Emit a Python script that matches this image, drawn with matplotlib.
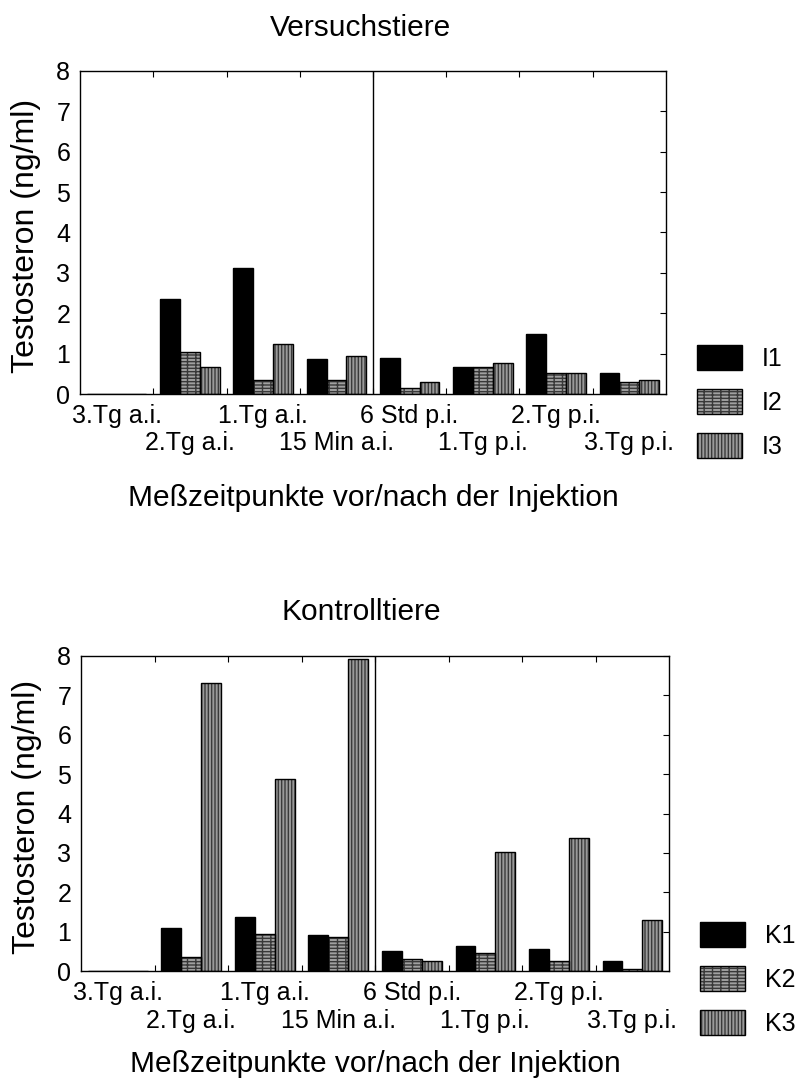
import numpy as np
import matplotlib
matplotlib.use("Agg")
import matplotlib.pyplot as plt
from matplotlib.patches import Patch

plt.rcParams['font.family'] = ['Liberation Sans', 'DejaVu Sans']
plt.rcParams['hatch.linewidth'] = 1.0

# Messzeitpunkte (Reihenfolge auf der x-Achse)
zeitpunkte = ['3.Tg a.i.', '2.Tg a.i.', '1.Tg a.i.', '15 Min a.i.',
              '6 Std p.i.', '1.Tg p.i.', '2.Tg p.i.', '3.Tg p.i.']

# Versuchstiere, Testosteron in ng/ml (3.Tg a.i. nicht gemessen)
i1 = [0, 2.35, 3.11, 0.86, 0.89, 0.67, 1.48, 0.53]
i2 = [0, 1.03, 0.35, 0.35, 0.16, 0.67, 0.53, 0.30]
i3 = [0, 0.67, 1.25, 0.95, 0.30, 0.76, 0.53, 0.35]

# Kontrolltiere
k1 = [0, 1.09, 1.37, 0.91, 0.51, 0.64, 0.56, 0.27]
k2 = [0, 0.36, 0.95, 0.87, 0.32, 0.46, 0.27, 0.05]
k3 = [0, 7.31, 4.88, 7.91, 0.27, 3.03, 3.39, 1.31]

FS = 18
FS_BIG = 21.5
# fill, hatch, hatch colour per series
styles = [('black', '', 'black'),
          ('#a0a0a0', '-----||', '#383838'),
          ('#9a9a9a', '|||||', '#3a3a3a')]


def draw_panel(ax, series, names, title, title_y, xlab_off):
    x = np.arange(len(zeitpunkte))
    w = 0.27
    handles = []
    for j, (vals, (fc, hatch, hc)) in enumerate(zip(series, styles)):
        pos = x + (j - 1) * w
        ax.bar(pos, vals, w, color=fc, hatch=hatch, edgecolor=hc, linewidth=0, zorder=2)
        ax.bar(pos, vals, w, fill=False, edgecolor='black', linewidth=1.0, zorder=3)
        handles.append((Patch(facecolor=fc, hatch=hatch, edgecolor=hc, linewidth=0),
                        Patch(fill=False, edgecolor='black', linewidth=1.0)))

    ax.set_xlim(-0.5, len(zeitpunkte) - 0.5)
    ax.set_ylim(0, 8)
    ax.axvline(3.5, color='black', linewidth=1.0, zorder=4)

    # tick marks at the category boundaries, labels alternate between two rows
    ax.set_xticks(np.arange(0.5, len(zeitpunkte) - 1, 1))
    ax.set_xticklabels([])
    ax.tick_params(axis='x', direction='in', length=4, top=True, bottom=True)
    for k, lab in enumerate(zeitpunkte):
        off = 21 if k % 2 == 0 else 40.5
        ax.annotate(lab, xy=(k, 0), xycoords=('data', 'axes fraction'),
                    xytext=(0, -off), textcoords='offset points',
                    ha='center', va='baseline', fontsize=FS)

    ax.set_yticks(range(9))
    ax.tick_params(axis='y', labelsize=FS, length=4, direction='in', left=False, right=True, pad=7)

    for sp in ax.spines.values():
        sp.set_linewidth(1.0)

    ax.set_ylabel('Testosteron (ng/ml)', fontsize=FS_BIG + 1.5)
    ax.yaxis.set_label_coords(-0.066, 0.49)
    ax.annotate('Meßzeitpunkte vor/nach der Injektion', xy=(0.5, 0), xycoords='axes fraction',
                xytext=(0, -xlab_off), textcoords='offset points',
                ha='center', va='center', fontsize=FS_BIG)
    fig.text(0.45, title_y, title, fontsize=FS_BIG, ha='center', va='center')

    ax.legend(handles, names, loc='center left', bbox_to_anchor=(1.053, -0.025),
              frameon=False, fontsize=FS, handlelength=1.8, handleheight=1.12,
              labelspacing=0.73, handletextpad=0.8, borderaxespad=0, borderpad=0)


fig = plt.figure(figsize=(8.02, 10.90), dpi=100)
ax1 = fig.add_axes([0.0998, 0.6385, 0.7306, 0.2964])
ax2 = fig.add_axes([0.1010, 0.1089, 0.7332, 0.2895])

draw_panel(ax1, [i1, i2, i3], ['I1', 'I2', 'I3'], 'Versuchstiere', 0.974, 75)
draw_panel(ax2, [k1, k2, k3], ['K1', 'K2', 'K3'], 'Kontrolltiere', 0.4385, 67)

fig.savefig('out.png', dpi=100)
